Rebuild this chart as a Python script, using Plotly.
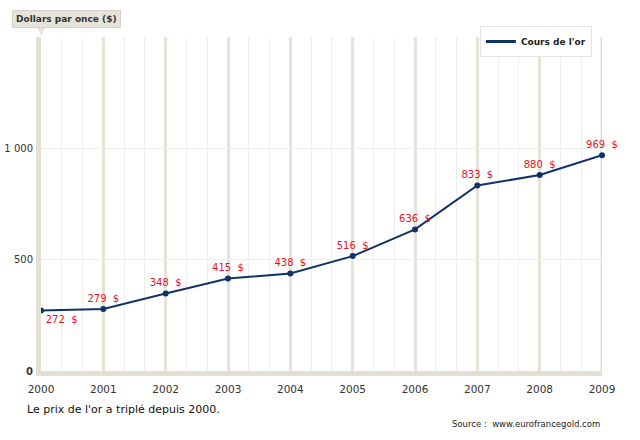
import plotly.graph_objects as go

years = [2000, 2001, 2002, 2003, 2004, 2005, 2006, 2007, 2008, 2009]
prices = [272, 279, 348, 415, 438, 516, 636, 833, 880, 969]
series_name = "Cours de l'or"
y_tickvals = [0, 500, 1000]
y_ticktext = ["<b>0</b>", "500", "1 000"]

labels = [f"{p}\u00a0\u00a0$" for p in prices]
positions = ["bottom right"] + ["top center"] * (len(prices) - 1)

NAVY = "#0f3366"
fig = go.Figure()
fig.add_trace(go.Scatter(
    x=years, y=prices, mode="lines+markers+text", name=series_name,
    line=dict(color=NAVY, width=2),
    marker=dict(color=NAVY, size=6),
    text=labels, textposition=positions,
    textfont=dict(color="#e8141c", size=10, family="DejaVu Sans"),
    cliponaxis=False, showlegend=False,
))
fig.add_trace(go.Scatter(
    x=[None], y=[None], mode="lines", name="<b>" + series_name + "</b>",
    line=dict(color=NAVY, width=3), showlegend=True,
))

fig.update_layout(
    width=640, height=440,
    margin=dict(l=41, r=38, t=37, b=69, autoexpand=False),
    paper_bgcolor="white", plot_bgcolor="white",
    font=dict(family="DejaVu Sans", size=10, color="#333"),
    showlegend=True,
    legend=dict(x=0.982, y=1.033, xanchor="right", yanchor="top",
                bgcolor="white", bordercolor="#e2e2e2", borderwidth=1,
                font=dict(size=9, color="#222", family="DejaVu Sans"),
                itemwidth=30),
    xaxis=dict(range=[2000, 2009], tickmode="array", tickvals=years,
               ticktext=[str(y) for y in years], automargin=False,
               showgrid=True, gridcolor="#e6e3d9", gridwidth=2.5,
               showline=True, linecolor="#e3e0d3", linewidth=5,
               zeroline=False, ticks="", ticklabelstandoff=4,
               tickfont=dict(size=10.5, color="#333"),
               minor=dict(tick0=2000, dtick=1/3, showgrid=True,
                          gridcolor="#f0eee8", gridwidth=1)),
    yaxis=dict(range=[0, 1500], tickmode="array", tickvals=y_tickvals + [1500],
               ticktext=y_ticktext + [""], automargin=False,
               showgrid=True, gridcolor="#f0eee8", gridwidth=1,
               showline=True, linecolor="#e3e0d3", linewidth=5,
               zeroline=False, ticks="", ticklabelstandoff=1,
               tickfont=dict(size=10, color="#333")),
)

# right border line at 2009
fig.add_shape(type="line", xref="x", yref="paper", x0=2009, x1=2009, y0=0, y1=1,
              line=dict(color="#e3e0d3", width=3), layer="below")

# y-axis title box with pointer
fig.add_shape(type="path", xref="paper", yref="paper",
              path="M -0.007 1.03 L 0.009 1.03 L 0.0 1.004 Z",
              fillcolor="#e6e4da", line=dict(width=0))
fig.add_annotation(xref="paper", yref="paper", x=-0.0517, y=1.054,
                   xanchor="left", yanchor="middle", showarrow=False,
                   text="<b>Dollars par once ($)</b>",
                   font=dict(size=9, color="#333", family="DejaVu Sans"),
                   bgcolor="#e6e4da", bordercolor="#d6d3c6", borderwidth=1,
                   borderpad=3)

fig.add_annotation(xref="paper", yref="paper", x=-0.0285, y=-0.114,
                   xanchor="left", yanchor="middle", showarrow=False,
                   text="Le prix de l'or a triplé depuis 2000.",
                   font=dict(size=11, color="#111", family="DejaVu Sans"))
fig.add_annotation(xref="paper", yref="paper", x=1.0, y=-0.159,
                   xanchor="right", yanchor="middle", showarrow=False,
                   text="Source :  www.eurofrancegold.com",
                   font=dict(size=8.5, color="#222", family="DejaVu Sans"))

fig.write_html("out.html", config={"displayModeBar": False},
               post_script="document.body.style.margin='0';document.body.style.padding='0';")
